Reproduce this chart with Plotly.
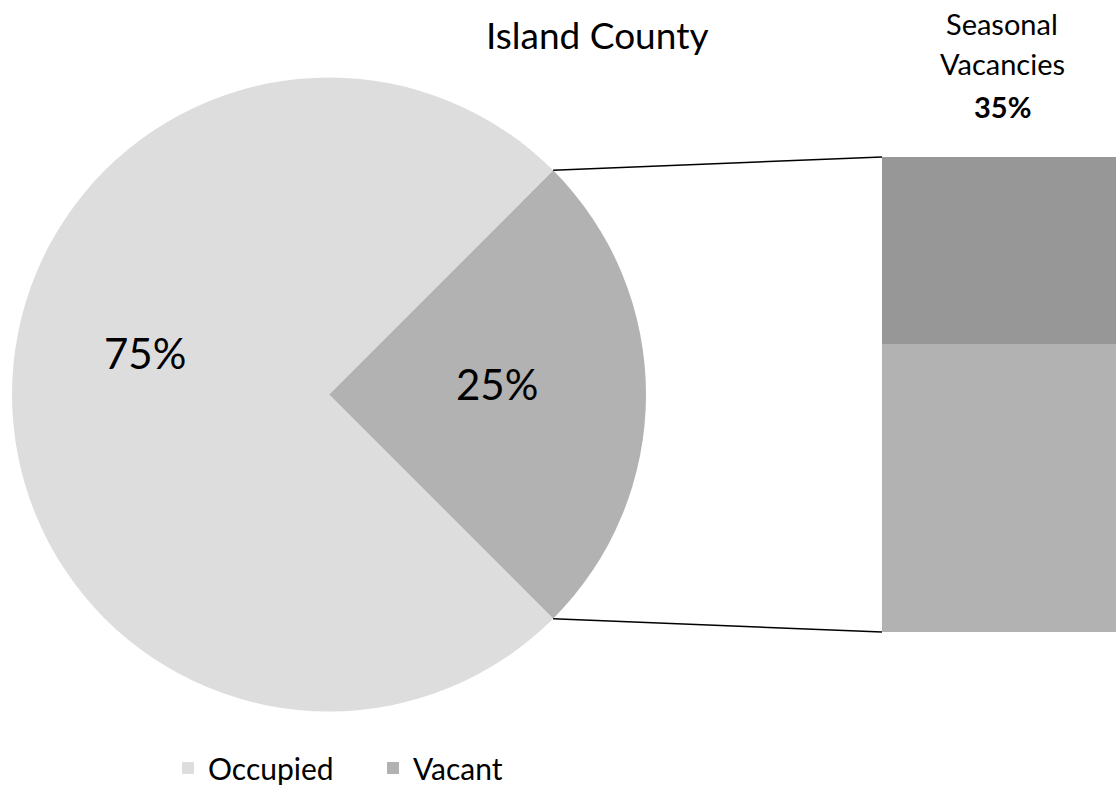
import math
import plotly.graph_objects as go

# ---- data ----
pie_labels = ["Vacant", "Occupied"]
pie_values = [25, 75]
pie_colors = ["#b2b2b2", "#dddddd"]
pie_text = ["25%", "75%"]

bar_labels = ["Other vacancies", "Seasonal Vacancies"]
bar_values = [60.6, 39.4]
bar_colors = ["#b2b2b2", "#979797"]

title_text = "Island County"
seasonal_lines = ["Seasonal", "Vacancies", "<b>35%</b>"]

W, H = 1116, 791
FONT = "Lato"

# pie geometry (pixels)
cx, cy, r = 329, 394.5, 317
pie_dom_x = [(cx - r) / W, (cx + r) / W]
pie_dom_y = [(H - (cy + r)) / H, (H - (cy - r)) / H]

bar_x0, bar_x1 = 882, 1116
bar_top, bar_bot = 157, 632
bar_dom_x = [bar_x0 / W, bar_x1 / W]
bar_dom_y = [(H - bar_bot) / H, (H - bar_top) / H]

fig = go.Figure()
fig.add_trace(go.Pie(
    labels=pie_labels, values=pie_values, sort=False, direction="clockwise",
    rotation=45, marker=dict(colors=pie_colors, line=dict(width=0)),
    textinfo="none", hoverinfo="label+percent",
    domain=dict(x=pie_dom_x, y=pie_dom_y),
))

for lab, val, col in zip(bar_labels, bar_values, bar_colors):
    fig.add_trace(go.Bar(x=[0], y=[val], name=lab, marker=dict(color=col, line=dict(width=0)),
                         width=1, showlegend=False, xaxis="x", yaxis="y"))

# connector lines
ang = math.radians(45)
px = cx + r * math.cos(ang)
py_top = cy - r * math.sin(ang)
py_bot = cy + r * math.sin(ang)
shapes = [
    dict(type="line", xref="paper", yref="paper", x0=px / W, y0=(H - py_top) / H,
         x1=bar_x0 / W, y1=(H - bar_top) / H, line=dict(color="black", width=1.5)),
    dict(type="line", xref="paper", yref="paper", x0=px / W, y0=(H - py_bot) / H,
         x1=bar_x0 / W, y1=(H - bar_bot) / H, line=dict(color="black", width=1.5)),
]


def ann(text, x, y, size):
    return dict(text=text, x=x / W, y=(H - y) / H, xref="paper", yref="paper",
                xanchor="center", yanchor="middle", showarrow=False,
                font=dict(size=size, color="black", family=FONT))


annotations = [
    ann(pie_text[1], 145, 353, 42),
    ann(pie_text[0], 497, 384, 42),
    ann(title_text, 597, 34, 37),
    ann(seasonal_lines[0], 1002, 24, 29),
    ann(seasonal_lines[1], 1002, 64, 29),
    ann(seasonal_lines[2], 1002, 106, 29),
]

fig.update_layout(
    width=W, height=H, margin=dict(l=0, r=0, t=0, b=0, autoexpand=False),
    paper_bgcolor="white", plot_bgcolor="white",
    barmode="stack", bargap=0,
    xaxis=dict(domain=bar_dom_x, range=[-0.5, 0.5], visible=False, fixedrange=True),
    yaxis=dict(domain=bar_dom_y, range=[0, 100], visible=False, fixedrange=True),
    shapes=shapes, annotations=annotations,
    showlegend=True,
    legend=dict(orientation="h", x=168 / W, y=-3 / H, xanchor="left", yanchor="bottom",
                font=dict(size=30, color="black", family=FONT), traceorder="reversed",
                entrywidth=160, entrywidthmode="pixels", bgcolor="rgba(0,0,0,0)"),
    font=dict(family=FONT),
)

fig.write_html("out.html", config={"displayModeBar": False},
               post_script="document.body.style.margin='0';document.body.style.overflow='hidden';")
